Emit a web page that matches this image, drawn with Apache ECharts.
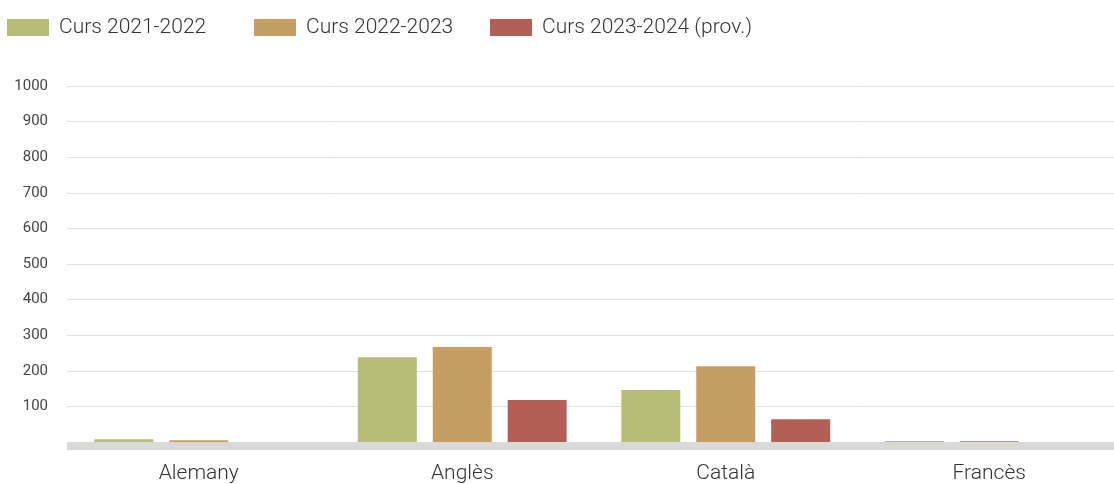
<!DOCTYPE html>
<html>
<head>
<meta charset="utf-8">
<script src="https://cdn.jsdelivr.net/npm/echarts@6/dist/echarts.min.js"></script>
<style>html,body{margin:0;padding:0;background:#fff;overflow:hidden;}#c{width:1121px;height:484px;}</style>
</head>
<body>
<div id="c"></div>
<script>
const categories = ['Alemany', 'Anglès', 'Català', 'Francès'];
const seriesNames = ['Curs 2021-2022', 'Curs 2022-2023', 'Curs 2023-2024 (prov.)'];
const curs2122 = [8, 238, 146, 3];
const curs2223 = [5, 267, 213, 3];
const curs2324 = [0, 118, 64, 0];
const colors = ['#b7bd77', '#c69e63', '#b26055'];

const chart = echarts.init(document.getElementById('c'), null, {renderer: 'canvas'});
const font = 'Roboto, "Liberation Sans", sans-serif';
const legendLefts = [7, 254, 490];
const legends = seriesNames.map((n, i) => ({
  left: legendLefts[i], top: 17, padding: 0,
  itemWidth: 42, itemHeight: 17,
  icon: 'rect',
  textStyle: {fontFamily: font, fontSize: 21, color: '#333', fontWeight: 300, padding: [0, 0, 0, 5]},
  data: [n]
}));
chart.setOption({
  animation: false,
  color: colors,
  legend: legends,
  grid: {left: 67, right: 0, top: 86, bottom: 42, containLabel: false},
  xAxis: {
    type: 'category',
    data: categories,
    offset: 4,
    axisLine: {onZero: false, lineStyle: {color: '#d9d9d9', width: 8, cap: 'butt'}},
    axisTick: {show: false},
    axisLabel: {fontFamily: font, fontSize: 21, color: '#333', margin: 17, fontWeight: 300}
  },
  yAxis: {
    type: 'value', min: 0, max: 1000, interval: 100,
    axisLine: {show: false}, axisTick: {show: false},
    splitLine: {lineStyle: {color: '#e0e0e0', width: 1}},
    axisLabel: {fontFamily: font, fontSize: 15, color: '#444', margin: 19, showMinLabel: false,
      formatter: v => String(v)}
  },
  series: [
    {name: seriesNames[0], type: 'bar', data: curs2122, barWidth: 59, barGap: '27%', z: 3},
    {name: seriesNames[1], type: 'bar', data: curs2223, barWidth: 59, barGap: '27%', z: 3},
    {name: seriesNames[2], type: 'bar', data: curs2324, barWidth: 59, barGap: '27%', z: 3}
  ]
});
</script>
</body>
</html>
